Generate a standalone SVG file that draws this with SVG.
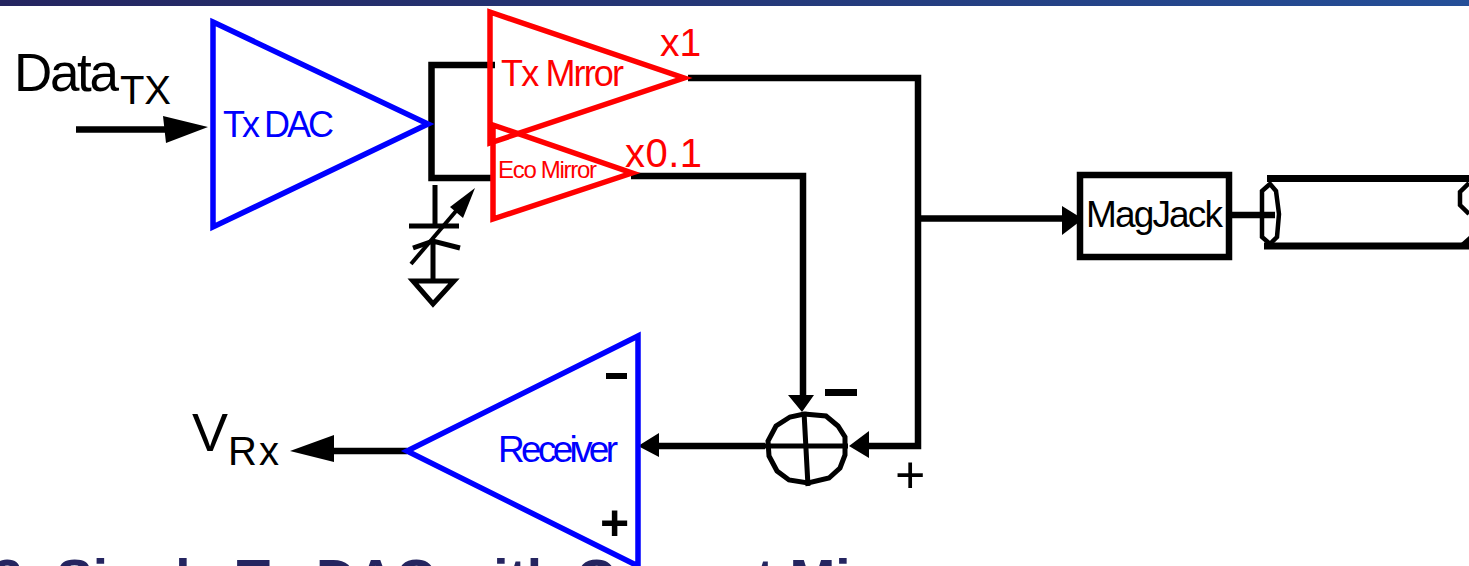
<svg xmlns="http://www.w3.org/2000/svg" width="1469" height="566" viewBox="0 0 1469 566">
<defs>
<linearGradient id="bar" x1="0" x2="1" y1="0" y2="0"><stop offset="0" stop-color="#252560"/><stop offset="0.5" stop-color="#253878"/><stop offset="1" stop-color="#254f98"/></linearGradient>
</defs>
<style>
text{font-family:"Liberation Sans",Arial,sans-serif}
.k{fill:none;stroke:#000;stroke-width:6.5}
.b{fill:none;stroke:#00f;stroke-width:5.5}
.r{fill:none;stroke:#f00;stroke-width:5.5}
.bt{fill:#00f}.rt{fill:#f00}.kt{fill:#000}
</style>
<rect width="1469" height="6" fill="url(#bar)"/>
<g id="connectors">
<path class="k" d="M76 129.500 H170"/>
<path class="k" d="M495 65 H431.500 V178 H495"/>
<path class="k" d="M688 78 H918 V446 H860"/>
<path class="k" d="M918 218.500 H1070"/>
<path class="k" d="M631 176 H803 V400"/>
<path class="k" d="M765 446 H650"/>
<path class="k" d="M407 451 H325"/>
<path class="k" d="M1232 215 H1275"/>
<path d="M163 116 L208 127 L166 143 Z M849 446 L869 431 V458 Z M638 446 L659 433 V457 Z M802 412 L788 395 H814 Z M1083 219 L1062 206 V235 Z M290 451 L334 435 V462 Z" fill="#000"/>
</g>
<g id="tx-dac"><path class="b" d="M213 22 L428 124 L213 227 Z"/><text class="bt" x="223" y="137" font-size="36" textLength="111">Tx DAC</text></g>
<g id="tx-mirror"><path class="r" d="M490 12 L684 78 L490 143 Z"/><text class="rt" x="501" y="86" font-size="36" textLength="123">Tx Mrror</text><text class="rt" x="660" y="56" font-size="39">x1</text></g>
<g id="eco-mirror"><path class="r" d="M493 125 L632 173 L493 219 Z"/><text class="rt" x="498" y="178" font-size="24" textLength="99">Eco Mirror</text><text class="rt" x="625" y="167" font-size="40" textLength="77">x0.1</text></g>
<g id="capacitor" fill="none" stroke="#000">
<path stroke-width="5" d="M435 185 V226 M409 226 H459 M433 242 V280 M413 248 L433 241 L460 248"/>
<path stroke-width="4" d="M411 264 L462 204"/>
<path d="M475 188 L450 207 L463 218 Z" fill="#000" stroke="none"/>
<path stroke-width="5" d="M413 281 H454 L433 304 Z"/>
</g>
<g id="magjack"><rect class="k" x="1080" y="175" width="149" height="82"/><text class="kt" x="1086" y="227" font-size="37" textLength="137">MagJack</text></g>
<g id="cable" fill="none" stroke="#000">
<path stroke-width="7" d="M1267 178.500 H1469 M1264 246 H1469"/>
<path stroke-width="4.500" d="M1270 184 L1262 191 V237 L1270 244 L1277 237 L1279 214 L1276 191 Z"/>
<path stroke-width="4.500" d="M1469 183 L1460 192 V205 L1469 214"/>
<path d="M1469 236 L1460 244 H1469 Z" fill="#000" stroke="none"/>
</g>
<g id="summer" fill="none" stroke="#000" stroke-width="5"><path d="M804 414 L826 416 L838 426 L845 437 L845 455 L840 468 L829 478 L808 483 L789 480 L777 471 L769 456 L768 441 L776 426 L790 417 Z"/><path d="M804 412 L808 486 M765 446 H848"/></g>
<g id="receiver"><path class="b" d="M638 336 L407 451 L638 566 Z"/><text class="bt" x="498" y="462" font-size="37" textLength="120">Receiver</text></g>
<g id="labels">
<text class="kt" x="14" y="91" font-size="53" textLength="105">Data</text>
<text class="kt" x="120" y="104" font-size="40" textLength="51">TX</text>
<text class="kt" x="192" y="451" font-size="54">V</text>
<text class="kt" x="228" y="465" font-size="40" letter-spacing="2">Rx</text>
<rect x="606" y="373" width="21" height="6" fill="#000"/>
<rect x="825" y="389" width="32" height="7" fill="#000"/>
<text class="kt" x="600" y="540" font-size="50" font-weight="bold">+</text>
<text class="kt" x="895" y="493" font-size="52">+</text>
<text x="-8" y="598" font-size="55" font-weight="bold" fill="#252560">2: Single Tx DAC with Current Mirror</text>
</g>
</svg>
